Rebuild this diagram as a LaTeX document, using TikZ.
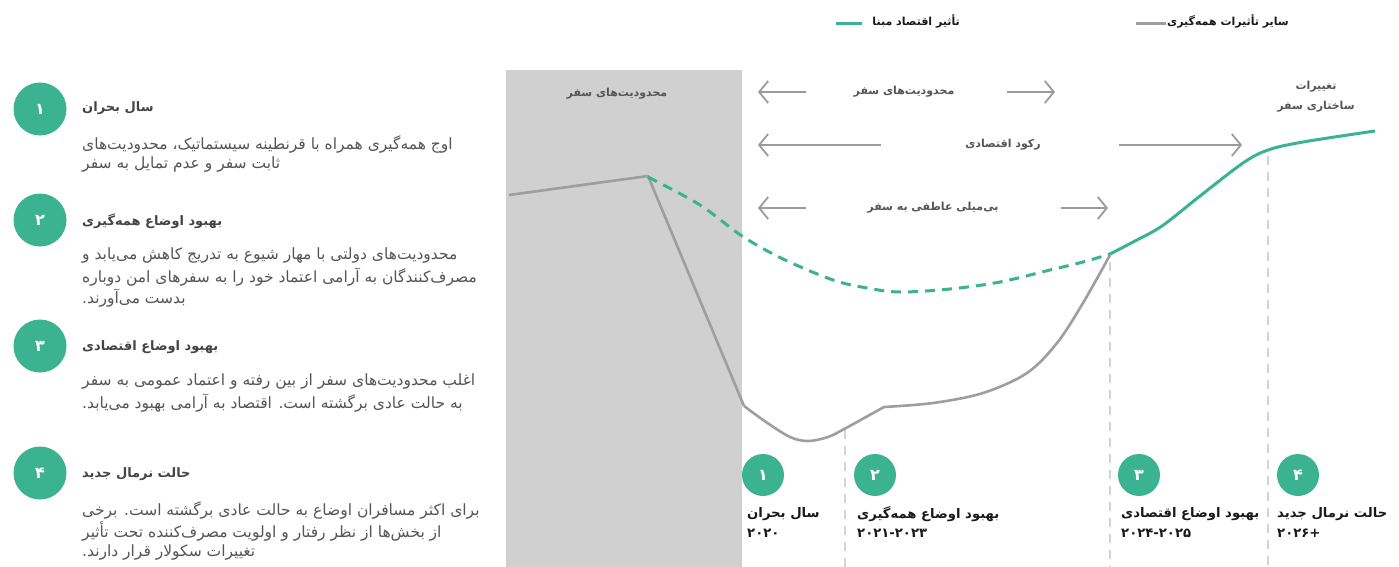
\documentclass[tikz,border=0pt]{standalone}
\usepackage{fontspec}
\usetikzlibrary{arrows.meta}
\TeXXeTstate=1
\newfontfamily\fa[Script=Arabic]{DejaVu Sans}
\newcommand\myrl[1]{\beginR #1\endR}
\definecolor{grn}{RGB}{59,179,145}
\definecolor{curvegray}{RGB}{158,158,158}
\definecolor{boxgray}{RGB}{208,208,208}
\definecolor{dashgray}{RGB}{212,212,212}
\definecolor{arrgray}{RGB}{155,155,155}
\definecolor{lblgray}{RGB}{85,85,85}
\definecolor{ttlc}{RGB}{68,68,68}
\definecolor{bodyc}{RGB}{85,85,85}
\definecolor{darkc}{RGB}{25,25,25}
\begin{document}
\begin{tikzpicture}[x=1pt,y=-1pt,
  lbl/.style={inner sep=0pt, anchor=west},
  bodytxt/.style={lbl, text=bodyc, font=\fa\fontsize{15.5}{18}\selectfont},
  ttltxt/.style={lbl, text=ttlc, font=\fa\bfseries\fontsize{13}{15}\selectfont},
  bottxt/.style={lbl, text=darkc, font=\fa\bfseries\fontsize{13.2}{16}\selectfont},
  chartlbl/.style={inner sep=0pt, text=lblgray, font=\fa\bfseries\fontsize{11}{14}\selectfont},
  legtxt/.style={inner sep=0pt, anchor=east, text=darkc, font=\fa\bfseries\fontsize{11}{14}\selectfont},
  bignum/.style={circle, fill=grn, text=white, inner sep=0pt, minimum size=53pt, font=\fa\bfseries\fontsize{16}{17}\selectfont},
  smallnum/.style={circle, fill=grn, text=white, inner sep=0pt, minimum size=42pt, font=\fa\bfseries\fontsize{16}{17}\selectfont},
  arr/.style={draw=arrgray, line width=1.8pt, -{Straight Barb[length=9pt,width=22pt,line width=1.8pt]}},
  vdash/.style={draw=dashgray, line width=2.5pt, dash pattern=on 9pt off 7pt},
  graycurve/.style={draw=curvegray, line width=2.6pt, line join=round},
  grncurve/.style={draw=grn, line width=3pt, line join=round},
  grndash/.style={draw=grn, line width=3pt, dash pattern=on 10pt off 7pt}
]
\useasboundingbox (0,0) rectangle (1399,567);
\fill[white] (0,0) rectangle (1399,567);

% legend
\draw[grn, line width=3pt] (836,24) -- (862,24);
\node[legtxt] (leg1) at (960,21) {\myrl{تأثیر اقتصاد مبنا}};
\draw[curvegray, line width=3pt] (1136,24) -- (1166,24);
\node[legtxt] (leg2) at (1289,21) {\myrl{سایر تأثیرات همه‌گیری}};

% left column
\node[bignum] (c1) at (40,109) {۱};
\node[ttltxt] (h1) at (82,108) {\myrl{سال بحران}};
\node[bodytxt] (b1a) at (82,144) {\myrl{اوج همه‌گیری همراه با قرنطینه سیستماتیک، محدودیت‌های}};
\node[bodytxt] (b1b) at (82,165) {\myrl{ثابت سفر و عدم تمایل به سفر}};

\node[bignum] (c2) at (40,220) {۲};
\node[ttltxt] (h2) at (82,221) {\myrl{بهبود اوضاع همه‌گیری}};
\node[bodytxt] (b2a) at (82,256) {\myrl{محدودیت‌های دولتی با مهار شیوع به تدریج کاهش می‌یابد و}};
\node[bodytxt] (b2b) at (82,277) {\myrl{مصرف‌کنندگان به آرامی اعتماد خود را به سفرهای امن دوباره}};
\node[bodytxt] (b2c) at (82,298) {\myrl{بدست می‌آورند.}};

\node[bignum] (c3) at (40,346) {۳};
\node[ttltxt] (h3) at (82,347) {\myrl{بهبود اوضاع اقتصادی}};
\node[bodytxt] (b3a) at (82,381) {\myrl{اغلب محدودیت‌های سفر از بین رفته و اعتماد عمومی به سفر}};
\node[bodytxt] (b3b) at (82,403) {\myrl{به حالت عادی برگشته است. اقتصاد به آرامی بهبود می‌یابد.}};

\node[bignum] (c4) at (40,473) {۴};
\node[ttltxt] (h4) at (82,474) {\myrl{حالت نرمال جدید}};
\node[bodytxt] (b4a) at (82,510) {\myrl{برای اکثر مسافران اوضاع به حالت عادی برگشته است. برخی}};
\node[bodytxt] (b4b) at (82,531) {\myrl{از بخش‌ها از نظر رفتار و اولویت مصرف‌کننده تحت تأثیر}};
\node[bodytxt] (b4c) at (82,552) {\myrl{تغییرات سکولار قرار دارند.}};

% chart background box
\fill[boxgray] (506,70) rectangle (742,567);
\node[chartlbl] (boxlbl) at (617,94) {\myrl{محدودیت‌های سفر}};

% dashed verticals
\draw[vdash] (845,430) -- (845,567);
\draw[vdash] (1110,262) -- (1110,567);
\draw[vdash] (1268,156) -- (1268,567);

% arrows and labels
\node[chartlbl] (r1) at (904,92) {\myrl{محدودیت‌های سفر}};
\coordinate (r1lt) at (806,92); \coordinate (r1lh) at (758,92);
\coordinate (r1rt) at (1007,92); \coordinate (r1rh) at (1055,92);
\draw[arr] (r1lt) -- (r1lh);
\draw[arr] (r1rt) -- (r1rh);

\node[chartlbl] (r2) at (1003,145) {\myrl{رکود اقتصادی}};
\coordinate (r2lt) at (881,145); \coordinate (r2lh) at (758,145);
\coordinate (r2rt) at (1119,145); \coordinate (r2rh) at (1242,145);
\draw[arr] (r2lt) -- (r2lh);
\draw[arr] (r2rt) -- (r2rh);

\node[chartlbl] (r3) at (933,208) {\myrl{بی‌میلی عاطفی به سفر}};
\coordinate (r3lt) at (806,208); \coordinate (r3lh) at (758,208);
\coordinate (r3rt) at (1061,208); \coordinate (r3rh) at (1108,208);
\draw[arr] (r3lt) -- (r3lh);
\draw[arr] (r3rt) -- (r3rh);

\node[chartlbl] (st1) at (1316,87) {\myrl{تغییرات}};
\node[chartlbl] (st2) at (1316,107) {\myrl{ساختاری سفر}};

% curves
\draw[graycurve] (509,195) -- (648,176) -- (744,406);
\draw[graycurve] plot[smooth, tension=0.55] coordinates {(744,406) (766,422) (790,437) (808,441) (828,437) (846,428) (884,407)};
\draw[graycurve] plot[smooth, tension=0.55] coordinates {(884,407) (933,403) (983,393) (1027,373) (1057,343) (1083,303) (1110,255)};
\draw[grndash] plot[smooth, tension=0.55] coordinates {(648,177) (700,205) (742,236) (783,259) (833,280) (867,288) (900,292) (950,289) (1000,282) (1050,270) (1083,262) (1110,254)};
\draw[grncurve] plot[smooth, tension=0.55] coordinates {(1110,254) (1135,241) (1162,226) (1200,196) (1243,163) (1268,150) (1303,142) (1375,131)};

% bottom milestones
\node[smallnum] (m1) at (763,475) {۱};
\node[bottxt] (m1t) at (747,514) {\myrl{سال بحران}};
\node[bottxt] (m1y) at (747,533) {۲۰۲۰};

\node[smallnum] (m2) at (875,475) {۲};
\node[bottxt] (m2t) at (857,514) {\myrl{بهبود اوضاع همه‌گیری}};
\node[bottxt] (m2y) at (857,533) {۲۰۲۱-۲۰۲۳};

\node[smallnum] (m3) at (1139,475) {۳};
\node[bottxt] (m3t) at (1121,514) {\myrl{بهبود اوضاع اقتصادی}};
\node[bottxt] (m3y) at (1121,533) {۲۰۲۴-۲۰۲۵};

\node[smallnum] (m4) at (1298,475) {۴};
\node[bottxt] (m4t) at (1277,514) {\myrl{حالت نرمال جدید}};
\node[bottxt] (m4y) at (1277,533) {۲۰۲۶\hbox{+}};
\end{tikzpicture}
\end{document}
